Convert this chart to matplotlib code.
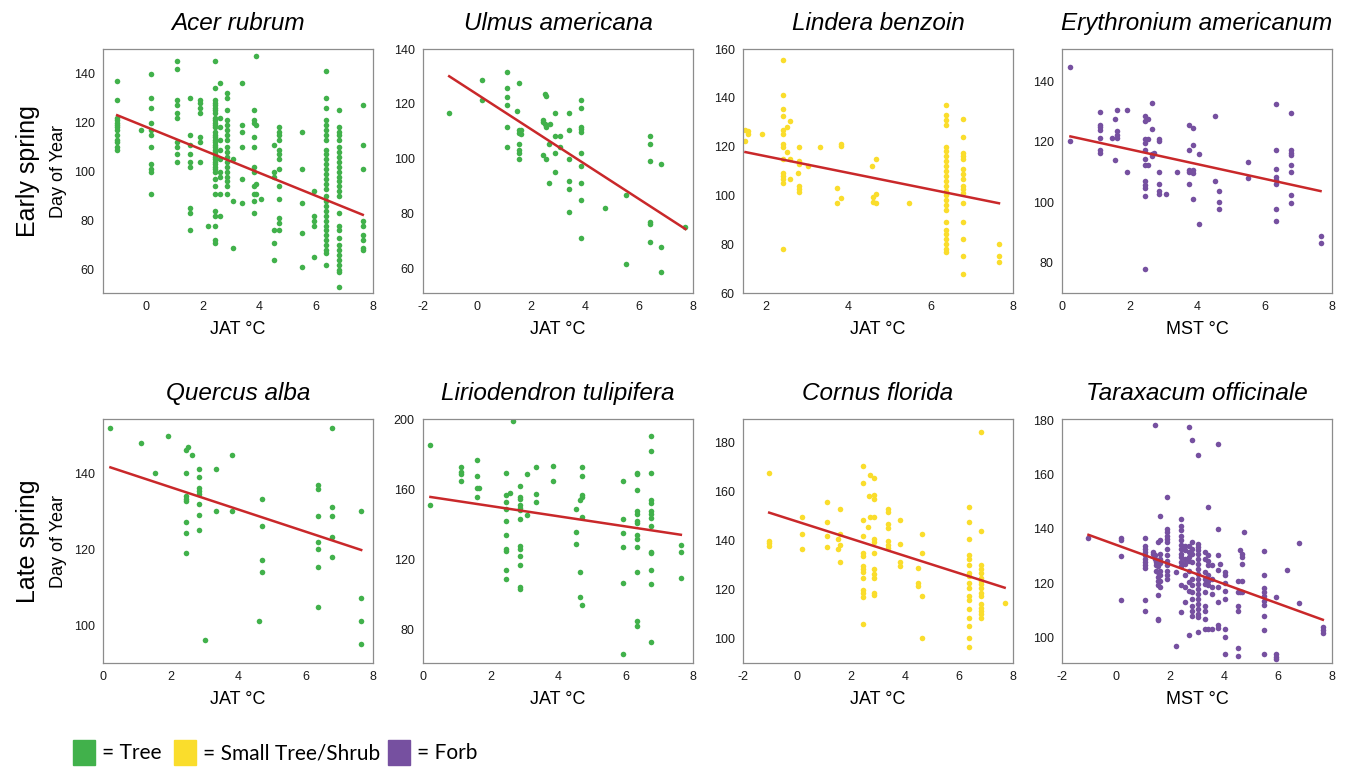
import numpy as np
import matplotlib.pyplot as plt
from matplotlib import font_manager
from matplotlib.patches import Rectangle

plt.rcParams['font.family'] = ['Liberation Sans', 'DejaVu Sans']
plt.rcParams['axes.unicode_minus'] = False

# colours of the three growth forms
tree_green = '#41b14b'
shrub_yellow = '#fadd2c'
forb_purple = '#7650a0'
fit_red = '#c9282a'

# data: (temperature, [day of year, ...]) for each column of dots
acer_rubrum = [
    (-1.0, [137, 129, 122, 121, 120, 119, 118, 117, 115, 113, 112, 110, 109]),
    (-0.15, [117]),
    (0.2, [140, 130, 126, 120, 117, 115, 110, 103, 101, 100, 91]),
    (1.1, [145, 142, 129, 127, 124, 122, 112, 110, 107, 104]),
    (1.57, [130, 115, 111, 107, 104, 102, 85, 83, 76]),
    (1.9, [129, 128, 126, 124, 114, 112, 104]),
    (2.2, [78]),
    (2.45, [145, 134, 129, 128, 127, 126, 125, 124, 122, 121, 120, 119, 118, 116, 115, 114, 113,
            112, 111, 110, 109, 108, 107, 106, 105, 104, 103, 102, 101, 100, 97, 94, 91, 84, 82,
            78, 72, 71]),
    (2.63, [136, 122, 118, 113, 109, 105, 100, 98, 91, 82]),
    (2.86, [132, 130, 125, 121, 119, 117, 115, 113, 110, 108, 106, 104, 102, 100, 98, 96, 94, 91]),
    (3.07, [105, 88, 69]),
    (3.38, [136, 119, 116, 110, 97, 87]),
    (3.8, [125, 121, 120, 114, 110, 102, 100, 94, 91, 88, 83]),
    (3.88, [147, 119, 95, 91]),
    (4.05, [89]),
    (4.5, [111, 100, 98, 76, 71, 64]),
    (4.68, [118, 116, 115, 113, 109, 107, 105, 101, 94, 89, 81, 79, 76]),
    (5.5, [116, 101, 87, 75, 61]),
    (5.93, [92, 82, 80, 78, 65]),
    (6.35, [141, 130, 126, 121, 119, 117, 115, 113, 109, 107, 105, 103, 101, 99, 97, 95, 93, 90,
            88, 86, 84, 82, 80, 78, 76, 74, 72, 70, 68, 67, 62]),
    (6.79, [125, 118, 116, 115, 113, 110, 108, 106, 104, 102, 100, 98, 96, 94, 92, 90, 83, 78,
            76, 73, 70, 68, 66, 64, 62, 60, 59, 53]),
    (7.64, [127, 111, 101, 80, 78, 74, 72, 69, 68]),
]
ulmus_americana = [
    (-1.03, [116.5]),
    (0.2, [128.6, 121.5]),
    (1.1, [131.7, 125.6, 122.5, 119.6, 111.4, 104.2]),
    (1.47, [117.3]),
    (1.57, [127.7, 110.4, 109.5, 105.2, 103, 102, 100]),
    (1.63, [110.4, 109]),
    (2.45, [114.2, 113.5, 101.2]),
    (2.5, [123.7, 112.6]),
    (2.57, [122.7, 111.6, 100]),
    (2.66, [105.2, 91]),
    (2.72, [112.6]),
    (2.88, [116.5, 108.3, 102.1, 95.3]),
    (3.09, [108.3, 104.2]),
    (3.39, [116.5, 110.4, 100, 91.9, 88.9, 80.7]),
    (3.87, [121.5, 118.4, 111.6, 110.7, 109.9, 102.1, 97.2, 91, 84.8, 70.9]),
    (4.74, [82]),
    (5.52, [86.9, 61.7]),
    (6.41, [108.3, 105.2, 99, 76.8, 76.2, 69.6]),
    (6.82, [98, 67.9, 58.8]),
    (7.72, [75]),
]
lindera_benzoin = [
    (1.51, [127, 122.3]),
    (1.56, [126.4, 125]),
    (1.9, [125]),
    (2.42, [155.4, 141.3, 135.5, 132.5, 126.8, 125, 121, 120, 114.8, 109.3, 108, 106.9, 105, 78]),
    (2.51, [128, 117.8]),
    (2.6, [130.4, 115, 106.9]),
    (2.78, [109]),
    (2.82, [120, 114, 112.7, 104, 102.8, 101.4]),
    (3.03, [112]),
    (3.33, [120]),
    (3.74, [103.2, 97]),
    (3.82, [121, 120.2, 99]),
    (4.59, [112]),
    (4.61, [99.5, 97.3]),
    (4.67, [115, 100.5, 97]),
    (5.48, [97]),
    (6.37, [137, 133, 131, 129, 120, 118, 116, 114, 112, 110, 108, 106, 104, 102, 100, 98, 96, 94,
            89, 86, 84, 82, 80, 78, 77]),
    (6.79, [131.4, 124, 117.5, 116, 114.8, 110.7, 108.6, 106.6, 104, 102.5, 100.8, 97, 89, 82, 75,
            67.8]),
    (7.66, [80, 75.3, 72.8]),
]
erythronium_americanum = [
    (0.25, [144.7, 120.2]),
    (1.13, [129.8, 125.7, 124.9, 124, 121.3, 117.4, 116.3]),
    (1.48, [121.3]),
    (1.58, [127.7, 114.1]),
    (1.63, [130.6, 123.5, 122.4, 121.3]),
    (1.94, [130.6, 110]),
    (2.47, [128.7, 126.8, 121, 119.6, 117.4, 114.4, 112.2, 107, 105.6, 104.8, 102, 77.8]),
    (2.56, [127.6, 121, 112.2]),
    (2.66, [132.8, 124.3, 116.1, 115.2]),
    (2.73, [116.3]),
    (2.86, [121, 120.2, 110, 106.2, 103.7, 102.9]),
    (3.08, [102.9]),
    (3.4, [110]),
    (3.77, [125.7, 117.2, 110.6, 110, 105.9]),
    (3.87, [124.6, 119.1, 110.8, 109.7, 101]),
    (4.07, [116.1, 92.9]),
    (4.53, [128.4, 107]),
    (4.66, [103.9, 100.1, 97.9]),
    (5.52, [113.3, 108.1]),
    (6.35, [132.6, 117.2, 111.1, 108.4, 107.3, 105.9, 97.9, 93.8]),
    (6.78, [129.5, 117.2, 116.3, 115.8, 112.2, 110, 102.3, 99.8]),
    (7.66, [88.8, 86.4]),
]
quercus_alba = [
    (0.22, [151.9]),
    (1.12, [147.9]),
    (1.54, [140]),
    (1.94, [149.9]),
    (2.45, [146, 140, 134.1, 133.2, 132.8, 127.1, 124.2, 119]),
    (2.53, [147]),
    (2.63, [144.9]),
    (2.85, [141, 139, 136, 135.2, 134.5, 131.9, 129, 125.1]),
    (3.03, [96.1]),
    (3.35, [141, 130]),
    (3.83, [144.9, 130]),
    (4.63, [101]),
    (4.7, [133.1, 126, 117.1, 114.1]),
    (6.36, [137, 135.9, 128.8, 122, 120, 115.2, 104.8]),
    (6.78, [151.9, 131, 128.8, 123.1, 118]),
    (7.65, [130, 107.1, 101, 95]),
]
liriodendron_tulipifera = [
    (0.22, [185.4, 150.6]),
    (1.13, [172.6, 169.6, 168.3, 164.4]),
    (1.6, [176.4, 167.3, 160.6, 155.5]),
    (1.65, [160.6]),
    (2.47, [169.2, 156.3, 152.5, 148.3, 141.6, 134, 125.5, 124.5, 113.7, 108.7]),
    (2.57, [157.8]),
    (2.66, [198.7]),
    (2.87, [161.6, 155.5, 154.4, 150.6, 149.2, 147.9, 142.6, 127.4, 125.9, 121.7, 116.5, 104.2,
            103]),
    (3.07, [168.3, 145.4]),
    (3.36, [172.4, 157.4, 152.7]),
    (3.86, [173.4, 164.4]),
    (4.52, [148.7, 135.4, 128.7]),
    (4.65, [154, 112.5, 98.5]),
    (4.7, [172.4, 167.3, 156.8, 155.5, 143.9, 93.5]),
    (5.94, [164.4, 142.6, 134.6, 127, 106.1, 65.6]),
    (6.35, [169.2, 168.3, 159.7, 147.3, 146, 141.6, 140.3, 133.5, 131.7, 126.8, 112.7, 84.6,
            81.7]),
    (6.77, [190.5, 181.6, 169.2, 153.6, 152.1, 147.3, 145.8, 143.5, 138.8, 124, 123.6, 113.5,
            105.9, 72.6]),
    (7.64, [127.8, 124, 108.9]),
]
cornus_florida = [
    (-1.03, [167.3, 139.7, 138.8, 137.7]),
    (0.19, [149.6, 142.7, 136.6]),
    (1.1, [155.6, 147.5, 141.8, 137.4]),
    (1.52, [140.7, 136.6]),
    (1.58, [152.6, 142.8, 138, 131]),
    (2.43, [170.5, 163.5, 148.5, 141.8, 135, 133.6, 129.6, 128.2, 127.3, 124.8, 119.8, 118.7,
            117.1, 105.8]),
    (2.62, [145.4]),
    (2.65, [158.3]),
    (2.71, [166.6, 149.6]),
    (2.86, [165.5, 158.7, 156.9, 149.6, 140.7, 139.3, 134.7, 128.2, 126.2, 124.8, 118.7, 117.6]),
    (3.37, [152.9, 151.5, 146.5, 145.2, 139.7, 138, 137]),
    (3.83, [148.5, 138.6, 131.2, 129.6]),
    (4.49, [128.9, 122.5, 121.4]),
    (4.64, [142.7, 135, 117.4, 100]),
    (6.38, [153.7, 147.5, 140.7, 133.9, 132.5, 129.8, 126.8, 125.5, 122.8, 120.7, 117.4, 115.7,
            111.9, 108.5, 104.9, 100, 96.7]),
    (6.8, [184.1, 143.8, 129.8, 128.2, 126.8, 124.8, 123.5, 122.1, 120.7, 118.7, 117.4, 114,
           112.6, 111.3, 109.9, 108.5]),
    (7.69, [114.6]),
]
taraxacum_officinale = [
    (-1.02, [136.7]),
    (0.19, [136.7, 135.7, 129.8, 113.8]),
    (1.08, [136.7, 133.8, 132.6, 131.4, 130.2, 128.9, 127.7, 126.5, 125.5, 113.8, 109.8]),
    (1.37, [131.4, 130.8]),
    (1.43, [178.4, 130.2, 128.9]),
    (1.49, [127.7, 126.5, 124.6]),
    (1.56, [135.1, 126.2, 124, 122.2, 120.9, 119.3, 115.6, 106.8, 106.2]),
    (1.62, [144.7, 135.7, 130.8, 128.9, 127.4, 124.6, 122.8, 120.9, 118.5]),
    (1.9, [151.7, 140, 138.8, 137.5, 136.3, 135.3, 132.6, 130.2, 128.3, 126.5, 124.6, 122.8,
           121.5]),
    (2.24, [124.2, 96.9]),
    (2.4, [143.7, 141.2, 139.4, 137.5, 135.7, 134.1, 132.6, 130.8, 129.5, 127.9, 126.2, 119.1,
           109.2]),
    (2.55, [133.8, 132, 128.9, 127.1, 122.8, 118.5, 112.9]),
    (2.7, [177.5, 133.8, 131.4, 129.5, 128.3, 124.6, 120.3, 117.2, 100.9]),
    (2.83, [172.6, 135.1, 132.6, 130.8, 127.7, 121.5, 119.1, 116.6, 114.2, 111.7, 109.8, 108]),
    (3.05, [167.4, 134.5, 133.2, 132, 130.8, 128.9, 127.1, 125.2, 123.4, 121.5, 119.7, 117.8,
            116, 114.2, 112.3, 110.5, 108.6, 107.4, 101.8]),
    (3.3, [131.4, 128.9, 124, 121.5, 119.7, 116.6, 111.7, 109.8, 106.8, 103.1]),
    (3.4, [148, 130.2, 128.3, 126.5, 122.8, 120.9, 119.1, 103.1]),
    (3.55, [126.5, 121.5, 118.5, 116, 103.1]),
    (3.77, [171.4, 139.8, 130.2, 124.8, 118.5, 112.9, 104.6, 103.3]),
    (3.86, [127.1]),
    (4.02, [124, 122.8, 120.1, 117.2, 114.2, 103.1, 100, 93.8]),
    (4.52, [120.9, 116.6, 111.7, 109.8, 95.9, 93]),
    (4.6, [132, 116.6]),
    (4.67, [130.8, 129.5, 127.1, 120.9, 116.6]),
    (4.73, [138.8]),
    (5.48, [131.8, 122.8, 118.1, 116.6, 115.1, 113.5, 111.9, 107.8, 102.8, 93.8]),
    (5.94, [114.8, 93.8, 92.6, 91.8]),
    (6.35, [124.9]),
    (6.76, [134.7, 112.7]),
    (7.66, [103.7, 102.5, 101.6]),
]

# regression lines: (intercept, slope)
acer_fit = (118.3, -4.70)
ulmus_fit = (123.5, -6.37)
lindera_fit = (122.9, -3.41)
erythronium_fit = (122.4, -2.44)
quercus_fit = (142.2, -2.93)
liriodendron_fit = (156.1, -2.91)
cornus_fit = (147.7, -3.51)
taraxacum_fit = (134.1, -3.61)

species = ['Acer rubrum', 'Ulmus americana', 'Lindera benzoin', 'Erythronium americanum',
           'Quercus alba', 'Liriodendron tulipifera', 'Cornus florida', 'Taraxacum officinale']
columns = [acer_rubrum, ulmus_americana, lindera_benzoin, erythronium_americanum,
           quercus_alba, liriodendron_tulipifera, cornus_florida, taraxacum_officinale]
fits = [acer_fit, ulmus_fit, lindera_fit, erythronium_fit,
        quercus_fit, liriodendron_fit, cornus_fit, taraxacum_fit]
xlabels = ['JAT °C', 'JAT °C', 'JAT °C', 'MST °C'] * 2
colours = [tree_green, tree_green, shrub_yellow, forb_purple,
           tree_green, tree_green, shrub_yellow, forb_purple]

xlims = [(-1.5, 8), (-2, 8), (1.45, 8), (0, 8), (0, 8), (0, 8), (-2, 8), (-2, 8)]
ylims = [(50.5, 150), (51, 140), (60, 160), (70, 150.7),
         (90, 154.3), (60.6, 200), (90, 189.5), (90.5, 180.5)]
yticks = [range(60, 141, 20), range(60, 141, 20), range(60, 161, 20), range(80, 141, 20),
          range(100, 141, 20), range(80, 201, 40), range(100, 181, 20), range(100, 181, 20)]

W, H = 1346, 767
fig = plt.figure(figsize=(W / 100, H / 100), dpi=100)

col_left = [103, 423, 743, 1062]
row_top = [49, 419]
ax_w, ax_h = 270, 244


def expand(cols):
    xs, ys = [], []
    for x, yy in cols:
        xs += [x] * len(yy)
        ys += list(yy)
    return np.array(xs), np.array(ys)


for i in range(8):
    r, c = divmod(i, 4)
    ax = fig.add_axes([col_left[c] / W, 1 - (row_top[r] + ax_h) / H, ax_w / W, ax_h / H])
    x, y = expand(columns[i])
    ax.scatter(x, y, s=16, color=colours[i], linewidths=0, zorder=2)
    b0, b1 = fits[i]
    xx = np.array([x.min(), x.max()])
    ax.plot(xx, b0 + b1 * xx, color=fit_red, lw=1.8, zorder=3)

    ax.set_xlim(*xlims[i])
    ax.set_ylim(*ylims[i])
    xt = [t for t in range(-2, 9, 2) if xlims[i][0] - 0.01 <= t <= 8]
    ax.set_xticks(xt)
    ax.set_yticks(list(yticks[i]))
    ax.tick_params(length=0, labelsize=9, pad=6, colors='#1a1a1a')
    for sp in ax.spines.values():
        sp.set_color('#8c8c8c')
        sp.set_linewidth(0.9)

    ax.set_title(species[i], fontsize=17.5, style='italic', pad=14)
    ax.set_xlabel(xlabels[i], fontsize=13)
    ax.xaxis.set_label_coords(0.5, -0.115)
    if c == 0:
        ax.set_ylabel('Day of Year', fontsize=13)
        ax.yaxis.set_label_coords(-0.135, 0.5)

fig.text(28 / W, 1 - 171 / H, 'Early spring', rotation=90, fontsize=18,
         ha='center', va='center')
fig.text(28 / W, 1 - 541 / H, 'Late spring', rotation=90, fontsize=18,
         ha='center', va='center')

# legend along the bottom
names = {f.name for f in font_manager.fontManager.ttflist}
legend_font = 'Liberation Sans Narrow' if 'Liberation Sans Narrow' in names else 'Lato'
legend_items = [('= Tree', tree_green, 73), ('= Small Tree/Shrub', shrub_yellow, 174),
                ('= Forb', forb_purple, 388)]
for label, col, px in legend_items:
    fig.patches.append(Rectangle((px / W, 1 - 765 / H), 22 / W, 25 / H,
                                 color=col, transform=fig.transFigure))
    fig.text((px + 29) / W, 1 - 753 / H, label, fontsize=15, family=legend_font,
             ha='left', va='center')

fig.savefig('out.png', dpi=100)
